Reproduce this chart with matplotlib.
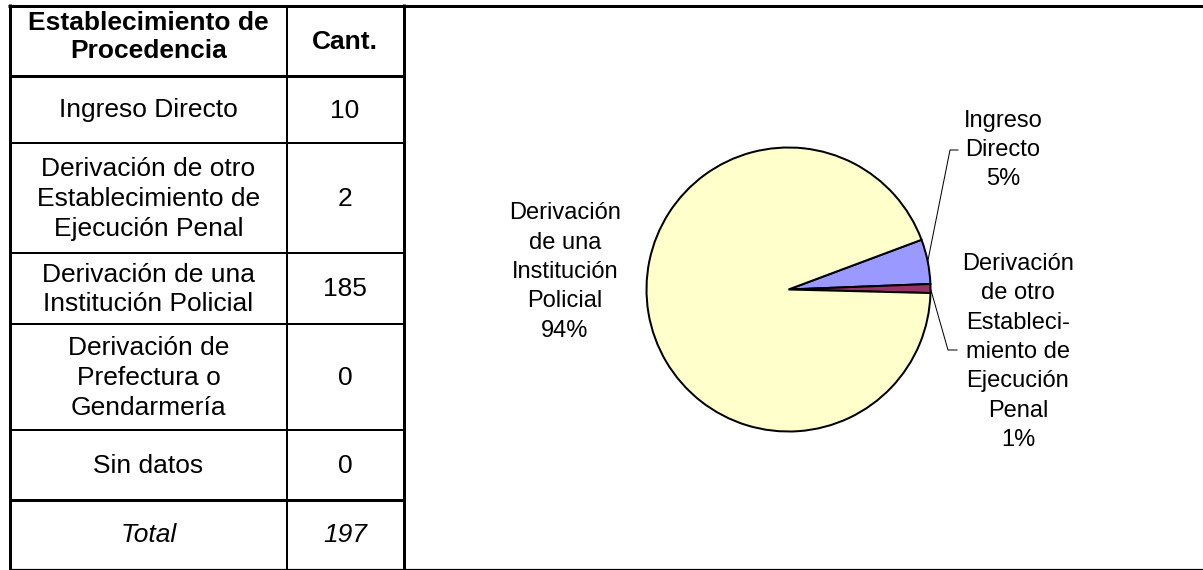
import matplotlib

matplotlib.use("Agg")
import matplotlib.pyplot as plt
import numpy as np

# table data
row_labels = [
    "Ingreso Directo",
    "Derivación de otro\nEstablecimiento de\nEjecución Penal",
    "Derivación de una\nInstitución Policial",
    "Derivación de\nPrefectura o\nGendarmería",
    "Sin datos",
]
row_counts = [10, 2, 185, 0, 0]
total = sum(row_counts)

# pie data (only non-zero categories are drawn)
pie_labels = [
    "Ingreso\nDirecto",
    "Derivación\nde otro\nEstableci-\nmiento de\nEjecución\nPenal",
    "Derivación\nde una\nInstitución\nPolicial",
]
pie_values = [10, 2, 185]
pie_colors = ["#9999FF", "#993366", "#FFFFCC"]

W, H = 1203, 570
PX = 0.72  # points per pixel at dpi 100
TABLE_FS = 19
PIE_FS = 17
plt.rcParams["font.family"] = ["Liberation Sans", "DejaVu Sans"]


def Y(y):
    # pixel row from top -> data y
    return H - y


def hline(ax, x0, x1, y, lw):
    ax.plot([x0, x1], [Y(y), Y(y)], color="black", lw=lw * PX, solid_capstyle="butt")


def vline(ax, x, y0, y1, lw):
    ax.plot([x, x], [Y(y0), Y(y1)], color="black", lw=lw * PX, solid_capstyle="butt")


def main():
    fig = plt.figure(figsize=(W / 100, H / 100), dpi=100)
    ax = fig.add_axes([0, 0, 1, 1])

    # ---- table ----
    col_x = [10, 287, 403]
    row_y = [7, 76, 143, 253, 324, 430, 500, 570]

    hline(ax, 8, W, 5.5, 3)
    vline(ax, 9.5, 4, 570, 3)
    vline(ax, 403.5, 4, 570, 3)
    hline(ax, 10, W, 568.5, 1.2)
    vline(ax, col_x[1], 7, 570, 2)
    for yy in row_y[1:-1]:
        hline(ax, 10, 403, yy, 3 if yy in (76, 500) else 2)

    cx1 = (col_x[0] + col_x[1]) / 2
    cx2 = (col_x[1] + col_x[2]) / 2
    ax.text(cx1, Y(37), "Establecimiento de\nProcedencia", ha="center", va="center",
            fontsize=TABLE_FS, fontweight="bold", linespacing=1.2)
    ax.text(cx2, Y(42), "Cant.", ha="center", va="center",
            fontsize=TABLE_FS, fontweight="bold")
    for i, (lab, n) in enumerate(zip(row_labels, row_counts)):
        yc = Y((row_y[i + 1] + row_y[i + 2]) / 2 + 1)
        ax.text(cx1, yc, lab, ha="center", va="center", fontsize=TABLE_FS, linespacing=1.29)
        ax.text(cx2, yc, str(n), ha="center", va="center", fontsize=TABLE_FS)
    yc = Y((row_y[6] + row_y[7]) / 2)
    ax.text(cx1, yc, "Total", ha="center", va="center", fontsize=TABLE_FS, style="italic")
    ax.text(cx2, yc, str(total), ha="center", va="center", fontsize=TABLE_FS, style="italic")

    # ---- pie ----
    center = (788.5, Y(289.5))
    radius = 142
    wedges, _ = ax.pie(pie_values, colors=pie_colors, startangle=20.5,
                       counterclock=False, center=center, radius=radius,
                       frame=True,
                       wedgeprops=dict(edgecolor="black", linewidth=2 * PX))

    pcts = [f"{round(100 * v / sum(pie_values))}%" for v in pie_values]
    text_pos = [(1003, 150), (1018, 352), (565, 272)]
    for lab, pct, (tx, ty) in zip(pie_labels, pcts, text_pos):
        ax.text(tx, Y(ty), f"{lab}\n{pct}", ha="center", va="center",
                fontsize=PIE_FS, linespacing=1.44)

    # leader lines from wedge edge to label
    leaders = {0: [(950, 150), (958, 150)], 1: [(948, 350), (957, 350)]}
    for i, pts in leaders.items():
        w = wedges[i]
        mid = np.deg2rad((w.theta1 + w.theta2) / 2)
        x0 = center[0] + radius * np.cos(mid)
        y0 = center[1] + radius * np.sin(mid)
        xs = [x0] + [p[0] for p in pts]
        ys = [y0] + [Y(p[1]) for p in pts]
        ax.plot(xs, ys, color="black", lw=1.0 * PX)

    ax.set_xlim(0, W)
    ax.set_ylim(0, H)
    ax.set_aspect("auto")
    ax.axis("off")

    fig.savefig("out.png", dpi=100)


if __name__ == "__main__":
    main()
